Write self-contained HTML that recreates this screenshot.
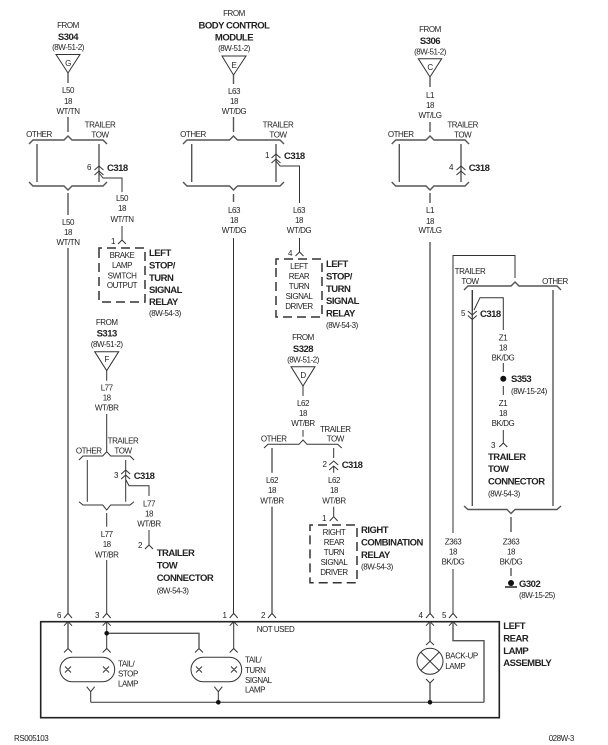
<!DOCTYPE html>
<html><head><meta charset="utf-8"><style>
html,body{margin:0;padding:0;background:#fff}
svg{display:block}
text{font-family:"Liberation Sans",sans-serif;fill:#222}
.s{font-size:8px;letter-spacing:-.45px}
.b{font-size:9.5px;font-weight:bold;letter-spacing:-.5px}
.m{text-anchor:middle}
.l{fill:none;stroke:#333;stroke-width:1}
.g{fill:none;stroke:#555;stroke-width:1.4}
.d{fill:none;stroke:#333;stroke-width:1.5;stroke-dasharray:9 5}
</style></head><body>
<svg width="608" height="745" viewBox="0 0 608 745" xmlns="http://www.w3.org/2000/svg">
<rect width="608" height="745" fill="#fff"/>

<!-- column 1 -->
<path class="l" d="M56,54.5H80L68,73Z"/>
<path class="g" d="M68,73V83M68,117V132M29,144L33,140H64L68,136L72,140H103L107,144M37,144V182M99,144V182M29,182L33,186H64L68,190L72,186H103L107,182M68,193V215M68,248V613"/>
<path class="l" d="M94.5,170L99,166L103.500,170M94.500,175L99,171L103.500,175M99,173L103,178H122V192M122,226V240M118,244L122,240L126,244"/>
<path class="d" d="M99,254V248H145V302H99V254"/>
<g class="s m">
<text x="68" y="28">FROM</text><text x="68" y="50">(8W-51-2)</text><text x="68" y="66">G</text>
<text x="68" y="93">L50</text><text x="68" y="104">18</text><text x="68" y="114">WT/TN</text>
<text x="39" y="137">OTHER</text><text x="100" y="127.500">TRAILER</text><text x="100" y="137.500">TOW</text>
<text x="68" y="225">L50</text><text x="68" y="235">18</text><text x="68" y="245">WT/TN</text>
<text x="122" y="201">L50</text><text x="122" y="211">18</text><text x="122" y="222">WT/TN</text>
<text x="89" y="170">6</text><text x="113" y="244">1</text>
<text x="122" y="258">BRAKE</text><text x="122" y="268">LAMP</text><text x="122" y="278.500">SWITCH</text><text x="122" y="288">OUTPUT</text>
</g>
<text class="b m" x="68" y="40">S304</text>
<text class="b" x="107" y="171">C318</text>
<g class="b"><text x="149" y="256">LEFT</text><text x="149" y="268.500">STOP/</text><text x="149" y="281">TURN</text><text x="149" y="293">SIGNAL</text><text x="149" y="305">RELAY</text></g>
<text class="s" x="149" y="316">(8W-54-3)</text>

<!-- column 2 -->
<path class="l" d="M222,56H246L233.500,75Z"/>
<path class="g" d="M233.500,75V84M233.500,117V132M183,144L187,140H229.500L233.500,136L237.500,140H280L284,144M191.700,144V182M276,144V182M183,182L187,186H229.500L233.500,190L237.500,186H280L284,182M233.500,194V202"/>
<path class="l" d="M233.500,238V613M271.500,158L276,154L280.500,158M271.500,163L276,159L280.500,163M276,161L280,166H299.500V203M299.500,238V252M295.500,256L299.500,252L303.500,256"/>
<path class="d" d="M276,265V259H322V317H276V265"/>
<g class="s m">
<text x="234" y="16">FROM</text><text x="234" y="51">(8W-51-2)</text><text x="234" y="68">E</text>
<text x="234" y="94">L63</text><text x="234" y="104">18</text><text x="234" y="114">WT/DG</text>
<text x="193" y="137">OTHER</text><text x="278" y="127.500">TRAILER</text><text x="278" y="137.500">TOW</text>
<text x="234" y="213">L63</text><text x="234" y="223">18</text><text x="234" y="233">WT/DG</text>
<text x="299" y="213">L63</text><text x="299" y="223">18</text><text x="299" y="233">WT/DG</text>
<text x="267" y="158">1</text><text x="290" y="256">4</text>
<text x="299" y="269">LEFT</text><text x="299" y="279">REAR</text><text x="299" y="289">TURN</text><text x="299" y="299">SIGNAL</text><text x="299" y="309">DRIVER</text>
</g>
<g class="b m"><text x="234" y="28.500">BODY CONTROL</text><text x="234" y="40.500">MODULE</text></g>
<text class="b" x="284" y="159">C318</text>
<g class="b"><text x="326" y="267">LEFT</text><text x="326" y="279.500">STOP/</text><text x="326" y="292">TURN</text><text x="326" y="304">SIGNAL</text><text x="326" y="316.500">RELAY</text></g>
<text class="s" x="326" y="328">(8W-54-3)</text>

<!-- column 3 -->
<path class="l" d="M418.300,58.700H441.700L430,77Z"/>
<path class="g" d="M430,77V87M430,122V132M391.700,144L395.700,140H426L430,136L434,140H465L469,144M399.300,144V182M461,144V182M391.700,182L395.700,186H426L430,190L434,186H465L469,182M430,193V203M430,242V613"/>
<path class="l" d="M456.500,170L461,166L465.500,170M456.500,175L461,171L465.500,175"/>
<g class="s m">
<text x="430" y="32">FROM</text><text x="430" y="54.300">(8W-51-2)</text><text x="430" y="70">C</text>
<text x="430" y="98">L1</text><text x="430" y="108">18</text><text x="430" y="118">WT/LG</text>
<text x="400.700" y="137">OTHER</text><text x="462.700" y="127.500">TRAILER</text><text x="462.700" y="137.500">TOW</text>
<text x="430" y="213">L1</text><text x="430" y="224">18</text><text x="430" y="233">WT/LG</text>
<text x="451" y="170">4</text>
</g>
<text class="b m" x="430" y="44">S306</text>
<text class="b" x="468.700" y="171">C318</text>

<!-- right block -->
<path class="l" d="M453,533V255.500H515V278M453,569V613"/>
<path class="g" d="M464,290L468,286H511L515,282L519,286H557L561,290M553,290V506M472.300,290V506M464,506L468,509.500H507L511,513.500L515,509.500H557L561,506M511,517V532M511,568V576"/>
<path class="l" d="M472.300,290V311M467.800,311L472.300,315L476.800,311M467.800,315.500L472.300,319.500L476.800,315.500M474,310L480,297.700H503.300V330M503.300,363V372M503.300,386V395M503.300,430V443M499.300,447L503.300,443L507.300,447"/>
<circle cx="503.300" cy="378.700" r="3" fill="#111"/>
<circle cx="511" cy="583" r="3" fill="#111"/>
<path d="M505,587H517" stroke="#222" stroke-width="1.500" fill="none"/>
<g class="s m">
<text x="470" y="274">TRAILER</text><text x="470" y="284">TOW</text><text x="555" y="284">OTHER</text>
<text x="463" y="316">5</text>
<text x="503" y="340.500">Z1</text><text x="503" y="350.500">18</text><text x="503" y="360.500">BK/DG</text>
<text x="503" y="406">Z1</text><text x="503" y="416">18</text><text x="503" y="426">BK/DG</text>
<text x="493" y="448">3</text>
<text x="453" y="544.500">Z363</text><text x="453" y="554.500">18</text><text x="453" y="564.500">BK/DG</text>
<text x="511" y="544.500">Z363</text><text x="511" y="554.500">18</text><text x="511" y="564.500">BK/DG</text>
</g>
<text class="b" x="480" y="317">C318</text>
<text class="b" x="511" y="382">S353</text>
<text class="s" x="511" y="394">(8W-15-24)</text>
<g class="b"><text x="488" y="460">TRAILER</text><text x="488" y="472">TOW</text><text x="488" y="484.500">CONNECTOR</text></g>
<text class="s" x="488" y="496.500">(8W-54-3)</text>
<text class="b" x="519" y="587">G302</text>
<text class="s" x="519" y="598">(8W-15-25)</text>

<!-- S313 block -->
<path class="l" d="M94.700,351.700H118.700L106.700,370.700Z"/>
<path class="l" d="M106.700,370.700V380.700M106.700,414V451.700M79,460L83,456H102.700L106.700,451.700L110.700,456H130L134,460M87.300,460V501.700M125.700,460V501.700M79,501.700L83,505H102.700L106.700,510L110.700,505H130L134,501.700M106.700,513V526.700M106.700,560V613M121.200,474L125.700,470L130.200,474M121.200,479L125.700,475L130.200,479M126,480L129,485.700H149V496M149,530V545M145,549L149,545L153,549"/>
<g class="s m">
<text x="106.700" y="325">FROM</text><text x="106.700" y="347">(8W-51-2)</text><text x="106.700" y="362">F</text>
<text x="106.700" y="390.500">L77</text><text x="106.700" y="400.500">18</text><text x="106.700" y="410.500">WT/BR</text>
<text x="123" y="443.500">TRAILER</text><text x="123" y="453.500">TOW</text><text x="88.700" y="453.500">OTHER</text>
<text x="116" y="478">3</text>
<text x="149" y="506.500">L77</text><text x="149" y="516.500">18</text><text x="149" y="526.500">WT/BR</text>
<text x="106.700" y="537">L77</text><text x="106.700" y="547">18</text><text x="106.700" y="557.500">WT/BR</text>
<text x="140" y="548">2</text>
</g>
<text class="b m" x="106.700" y="336.500">S313</text>
<text class="b" x="133.700" y="479">C318</text>
<g class="b"><text x="156.700" y="556">TRAILER</text><text x="156.700" y="568.500">TOW</text><text x="156.700" y="581">CONNECTOR</text></g>
<text class="s" x="156.700" y="593.500">(8W-54-3)</text>

<!-- S328 block -->
<path class="l" d="M291,366.700H315L303,386Z"/>
<path class="l" d="M303,386V396M303,430V436.700M264,448L268,444.300H299L303,440L307,444.300H337.700L341.700,448M333.700,448V458M329.200,465L333.700,461L338.200,465M329.200,470L333.700,466L338.200,470M333.700,466V472.700M333.700,506.700V516.700M329.700,521L333.700,516.700L337.700,521"/>
<path class="g" d="M272,448V472.700M272,506.700V613"/>
<path class="d" d="M310,531V525H357V582.700H310V531"/>
<g class="s m">
<text x="303" y="340">FROM</text><text x="303" y="362.500">(8W-51-2)</text><text x="303" y="378">D</text>
<text x="303" y="406">L62</text><text x="303" y="416">18</text><text x="303" y="426">WT/BR</text>
<text x="273.700" y="441.500">OTHER</text><text x="335.300" y="432">TRAILER</text><text x="335.300" y="441.500">TOW</text>
<text x="272" y="483">L62</text><text x="272" y="493">18</text><text x="272" y="503.500">WT/BR</text>
<text x="334" y="483">L62</text><text x="334" y="493">18</text><text x="334" y="503.500">WT/BR</text>
<text x="324.500" y="467">2</text><text x="324" y="521">1</text>
<text x="334" y="535">RIGHT</text><text x="334" y="545">REAR</text><text x="334" y="555">TURN</text><text x="334" y="565">SIGNAL</text><text x="334" y="575">DRIVER</text>
</g>
<text class="b m" x="303" y="352">S328</text>
<text class="b" x="341.700" y="468">C318</text>
<g class="b"><text x="361" y="533">RIGHT</text><text x="361" y="545.500">COMBINATION</text><text x="361" y="558">RELAY</text></g>
<text class="s" x="361" y="569.500">(8W-54-3)</text>

<!-- bottom assembly -->
<rect x="40.700" y="621.700" width="458.600" height="96" fill="none" stroke="#222" stroke-width="1.600"/>
<path class="l" d="M64,618L68,613.300L72,618M102.700,618L106.700,613.300L110.700,618M229.700,618L233.700,613.300L237.700,618M268,618L272,613.300L276,618M426,618L430,613.300L434,618M449,618L453,613.300L457,618"/>
<path class="l" d="M64,625.700L68,621.700L72,625.700M102.700,625.700L106.700,621.700L110.700,625.700M229.700,625.700L233.700,621.700L237.700,625.700M426,625.700L430,621.700L434,625.700M449,625.700L453,621.700L457,625.700"/>
<path class="l" d="M64,652.500L68,648.500L72,652.500M102.700,652.500L106.700,648.500L110.700,652.500M195,652.500L199,648.500L203,652.500M229.700,652.500L233.700,648.500L237.700,652.500M426,645L430,641.300L434,645M426,679L430,683L434,679"/>
<path class="g" d="M68,622V649M106.700,633.300H199V649M430,622V641M430,683V702.300"/>
<path class="l" d="M106.700,622V649M233.700,622V649"/>
<path class="g" d="M453,622V640.700H484V702.300"/>
<path class="l" d="M90.700,702.300H484M90.700,691.700V702.300M86.700,686.700L90.700,691.700L94.700,686.700M218.300,691.700V702.300M214.300,686.700L218.300,691.700L222.300,686.700"/>
<circle cx="106.700" cy="633.300" r="2.300" fill="#111"/>
<circle cx="218.300" cy="702.300" r="2.300" fill="#111"/>
<circle cx="430" cy="702.300" r="2.300" fill="#111"/>
<rect x="60" y="657.300" width="54.700" height="24.400" rx="12.200" class="l"/>
<rect x="191" y="657.300" width="50.700" height="24.400" rx="12.200" class="l"/>
<path class="l" d="M65,666.500L71,672.500M71,666.500L65,672.500M103,666.500L109,672.500M109,666.500L103,672.500M196,666.500L202,672.500M202,666.500L196,672.500M231,666.500L237,672.500M237,666.500L231,672.500"/>
<circle cx="430" cy="661.300" r="13" class="l"/>
<path class="l" d="M420.800,652.100L439.200,670.500M439.200,652.100L420.800,670.500"/>
<g class="s">
<text x="118" y="666.500">TAIL/</text><text x="118" y="676.500">STOP</text><text x="118" y="686.500">LAMP</text>
<text x="245" y="662.500">TAIL/</text><text x="245" y="673">TURN</text><text x="245" y="683">SIGNAL</text><text x="245" y="692.500">LAMP</text>
<text x="256.700" y="632">NOT USED</text>
<text x="445.300" y="658.500">BACK-UP</text><text x="445.300" y="669">LAMP</text>
<text x="14" y="741">RS005103</text><text x="548.700" y="741">028W-3</text>
</g>
<g class="s m">
<text x="59" y="618">6</text><text x="97" y="618">3</text><text x="224.500" y="618">1</text><text x="263" y="618">2</text><text x="420.500" y="618">4</text><text x="444" y="618">5</text>
</g>
<g class="b"><text x="503.300" y="629">LEFT</text><text x="503.300" y="641.500">REAR</text><text x="503.300" y="654">LAMP</text><text x="503.300" y="666">ASSEMBLY</text></g>
</svg>
</body></html>
